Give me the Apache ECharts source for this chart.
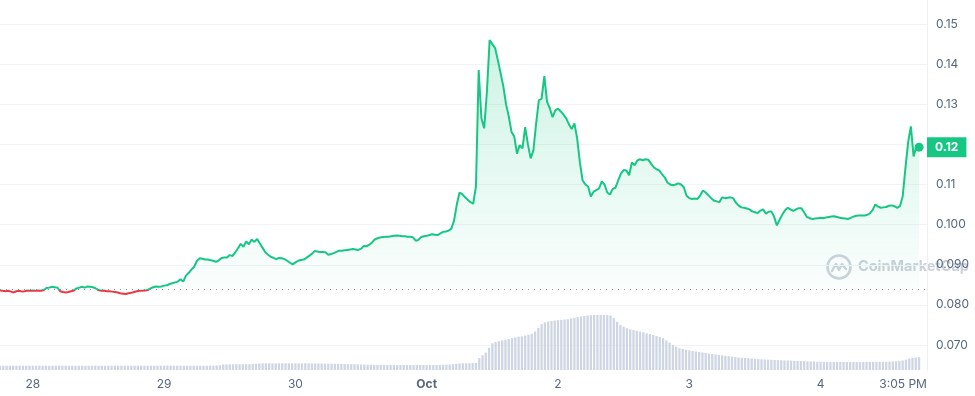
<!DOCTYPE html>
<html>
<head>
<meta charset="utf-8">
<script src="https://cdn.jsdelivr.net/npm/echarts@6/dist/echarts.min.js"></script>
<style>
  html, body { margin: 0; padding: 0; background: #ffffff; }
  #c { width: 975px; height: 396px; }
</style>
</head>
<body>
<div id="c"></div>
<script>
// ---- data (hours measured from Sep 28 00:00) ----
const priceStartHour = -6;      // Sep 27 18:00
const priceStepHours = 0.5;     // 30-minute samples
const prices = [
0.0836,0.0835,0.0834,0.0835,0.0833,0.0831,0.0834,0.0835,0.0833,0.0834,
0.0836,0.0835,0.0836,0.0835,0.0836,0.0835,0.0837,0.0842,0.0843,0.0845,
0.0844,0.0843,0.0834,0.0832,0.0831,0.0832,0.0834,0.0836,0.0841,0.0843,
0.0845,0.0843,0.0846,0.0845,0.0844,0.0841,0.0837,0.0835,0.0836,0.0834,
0.0834,0.0833,0.0832,0.0831,0.0829,0.0828,0.0827,0.0829,0.0830,0.0832,
0.0834,0.0835,0.0835,0.0836,0.0837,0.0841,0.0844,0.0846,0.0845,0.0846,
0.0848,0.0849,0.0852,0.0854,0.0856,0.0858,0.0864,0.0858,0.0873,0.0880,
0.0888,0.0895,0.0910,0.0916,0.0915,0.0913,0.0913,0.0911,0.0910,0.0907,
0.0911,0.0917,0.0918,0.0918,0.0924,0.0922,0.0931,0.0941,0.0952,0.0945,
0.0958,0.0951,0.0963,0.0957,0.0964,0.0953,0.0942,0.0931,0.0925,0.0920,
0.0917,0.0914,0.0917,0.0916,0.0914,0.0910,0.0905,0.0901,0.0906,0.0910,
0.0912,0.0913,0.0917,0.0922,0.0927,0.0934,0.0933,0.0932,0.0932,0.0931,
0.0925,0.0927,0.0929,0.0932,0.0935,0.0935,0.0936,0.0937,0.0938,0.0939,
0.0938,0.0937,0.0940,0.0947,0.0946,0.0950,0.0955,0.0963,0.0966,0.0968,
0.0969,0.0970,0.0970,0.0971,0.0972,0.0973,0.0972,0.0971,0.0971,0.0970,
0.0970,0.0968,0.0960,0.0962,0.0969,0.0971,0.0972,0.0974,0.0976,0.0975,
0.0974,0.0978,0.0982,0.0983,0.0985,0.0990,0.1010,0.1050,0.1080,0.1076,
0.1068,0.1062,0.1056,0.1052,0.1095,0.1385,0.1265,0.1240,0.1330,0.1460,
0.1450,0.1440,0.1410,0.1378,0.1345,0.1300,0.1270,0.1231,0.1220,0.1177,
0.1198,0.1190,0.1243,0.1200,0.1165,0.1185,0.1252,0.1310,0.1314,0.1370,
0.1306,0.1290,0.1268,0.1285,0.1289,0.1282,0.1274,0.1265,0.1250,0.1238,
0.1252,0.1215,0.1155,0.1110,0.1100,0.1095,0.1070,0.1082,0.1086,0.1090,
0.1108,0.1100,0.1080,0.1075,0.1089,0.1092,0.1110,0.1127,0.1136,0.1135,
0.1123,0.1155,0.1148,0.1160,0.1163,0.1160,0.1163,0.1162,0.1152,0.1143,
0.1138,0.1135,0.1126,0.1118,0.1105,0.1100,0.1098,0.1100,0.1103,0.1100,
0.1093,0.1072,0.1066,0.1064,0.1065,0.1064,0.1073,0.1085,0.1080,0.1073,
0.1066,0.1060,0.1058,0.1056,0.1068,0.1066,0.1067,0.1068,0.1066,0.1055,
0.1048,0.1043,0.1042,0.1040,0.1038,0.1033,0.1031,0.1029,0.1035,0.1038,
0.1027,0.1032,0.1033,0.1020,0.0998,0.1012,0.1025,0.1036,0.1042,0.1038,
0.1034,0.1038,0.1041,0.1041,0.1030,0.1019,0.1016,0.1014,0.1015,0.1016,
0.1017,0.1016,0.1018,0.1019,0.1020,0.1021,0.1019,0.1017,0.1016,0.1015,
0.1014,0.1017,0.1020,0.1022,0.1023,0.1023,0.1023,0.1024,0.1028,0.1036,
0.1050,0.1045,0.1042,0.1043,0.1044,0.1047,0.1048,0.1046,0.1042,0.1046,
0.1070,0.1140,0.1205,0.1245,0.1170,0.1195,0.1193
];
const openPrice = 0.0838;

const volStartHour = -6;
const volStepHours = 0.6;
const volumes = [
5.8,5.9,5.8,5.7,5.8,5.9,6.0,5.9,5.8,5.8,
5.7,5.8,5.9,5.8,5.8,5.7,5.8,5.9,5.9,5.8,
5.8,5.7,5.8,5.8,5.9,5.8,5.7,5.8,5.8,5.9,
5.8,5.8,5.7,5.8,5.9,5.8,5.8,5.7,5.8,5.8,
5.9,5.8,5.8,5.7,5.8,5.8,5.9,5.8,5.8,5.8,
5.9,6.0,5.9,5.8,5.8,5.9,5.8,5.8,5.7,5.8,
5.8,5.9,5.8,5.8,5.9,6.0,6.2,6.5,
7.4,7.6,7.7,7.7,7.8,7.7,7.7,7.8,7.9,8.2,8.5,8.8,
9.0,9.0,9.1,9.0,9.0,9.1,9.1,9.0,9.0,9.1,9.0,9.0,9.0,9.1,9.0,8.9,8.9,8.8,8.8,8.7,8.6,
8.5,8.4,8.3,8.2,8.1,8.0,7.9,7.8,7.6,7.5,7.4,7.2,7.1,7.0,6.9,
6.8,6.8,6.7,6.8,6.8,6.7,6.7,6.8,6.8,6.7,6.6,6.7,6.8,6.8,6.7,6.8,6.8,6.8,6.9,7.0,7.2,7.5,7.9,8.4,
8.8,9.0,9.0,9.1,9.2,9.5,
16,20,23.5,30,36,38,39,40,41,42,43,44,45,45.5,46.5,47.5,49,52,57,62,
64.5,65.5,66.3,66.8,67.3,67.8,68.2,68.6,69.5,70.5,71.5,72.3,73,73.6,74,74.3,74.4,74.4,74.3,74.2,
73.5,70,65,61,58.5,56.5,55,54,53,52,51,49.5,48.5,47.3,46,44.5,43,40,37,34,
31.5,29.5,28.5,27.5,26.5,25.8,25,24.4,23.8,23,22.3,21.7,21,20.4,19.8,19.2,18.6,18,17.5,17,
16.6,16.3,16,15.6,15.2,14.8,14.5,14.2,14,13.8,13.6,13.4,13.2,13,12.8,12.6,12.4,12.3,12.1,12,
11.8,11.6,11.5,11.3,11.2,11.1,11,11,10.9,10.9,10.8,10.8,10.8,10.7,10.7,
10.7,10.8,10.8,10.9,10.9,11,11,11.1,11.2,11.2,11.3,11.5,11.8,12.2,12.8,
14,15.5,16.5,17,17.5
];

const tickHours = [0, 24, 48, 72, 96, 120, 144, 159.08];
const tickLabels = ['28', '29', '30', 'Oct', '2', '3', '4', '3:05 PM'];

// ---- build series data ----
const priceData = prices.map((p, i) => [priceStartHour + i * priceStepHours, p]);
const volData = volumes.map((v, i) => [volStartHour + i * volStepHours, v]);
const last = priceData[priceData.length - 1];

const GREEN = '#16c784', RED = '#ea3943', LABEL = '#58667e';
const FONT = 'Inter, "Noto Sans", sans-serif';
const xMin = -6, xMax = 163.45;

const chart = echarts.init(document.getElementById('c'));
chart.setOption({
  animation: false,
  textStyle: { fontFamily: FONT },
  grid: [
    { left: 0, right: 48, top: 24, bottom: 51 },
    { left: 0, right: 48, top: 0, bottom: 26 }
  ],
  xAxis: [
    { gridIndex: 0, type: 'value', min: xMin, max: xMax, show: false },
    { gridIndex: 1, type: 'value', min: xMin, max: xMax,
      axisLine: { show: false }, axisTick: { show: false }, splitLine: { show: false },
      axisLabel: {
        customValues: tickHours, color: LABEL, fontSize: 12, margin: 8, fontFamily: FONT,
        formatter: v => {
          const i = tickHours.findIndex(h => Math.abs(h - v) < 0.01);
          if (i < 0) return '';
          return tickLabels[i] === 'Oct' ? '{b|Oct}' : tickLabels[i];
        },
        rich: { b: { fontWeight: 'bold', color: LABEL, fontSize: 12, fontFamily: FONT } }
      } }
  ],
  yAxis: [
    { gridIndex: 0, type: 'value', position: 'right', min: 0.07, max: 0.15, interval: 0.01,
      axisLine: { show: false }, axisTick: { show: false },
      splitLine: { lineStyle: { color: '#f2f3f6', width: 1 } },
      axisLabel: { color: LABEL, fontSize: 12, margin: 9, fontFamily: FONT,
        formatter: v => {
          const m = Math.round(v * 1000);
          if (m === 120) return '';
          return m >= 110 ? (m / 1000).toFixed(2) : (m / 1000).toFixed(3);
        } } },
    { gridIndex: 1, type: 'value', position: 'right', min: 0, max: 500,
      axisLine: { show: true, onZero: false, lineStyle: { color: '#eef0f3', width: 1 } },
      axisTick: { show: false }, axisLabel: { show: false }, splitLine: { show: false } }
  ],
  visualMap: {
    show: false, type: 'piecewise', seriesIndex: 1, dimension: 1,
    pieces: [ { gte: 0, lt: openPrice, color: RED }, { gte: openPrice, lte: 1, color: GREEN } ]
  },
  series: [
    { type: 'bar', xAxisIndex: 1, yAxisIndex: 1, data: volData, barWidth: 2.3,
      itemStyle: { color: '#cfd6e3' }, z: 1, silent: true },
    { type: 'line', xAxisIndex: 0, yAxisIndex: 0, data: priceData, showSymbol: false,
      lineStyle: { width: 2 }, z: 3,
      areaStyle: {
        origin: openPrice,
        color: new echarts.graphic.LinearGradient(0, 0, 0, 1, [
          { offset: 0, color: 'rgba(22,199,132,0.30)' },
          { offset: 1, color: 'rgba(22,199,132,0.02)' }
        ])
      },
      markLine: {
        silent: true, symbol: ['none', 'none'], precision: 6,
        data: [
          { yAxis: openPrice, lineStyle: { type: [1, 5], color: '#8a93a3', width: 1 }, label: { show: false } },
          { yAxis: last[1], lineStyle: { width: 0, color: 'rgba(0,0,0,0)' },
            label: { show: true, position: 'end', distance: 0, formatter: last[1].toFixed(2),
              backgroundColor: GREEN, color: '#ffffff', fontWeight: 'bold', fontSize: 12,
              fontFamily: FONT, lineHeight: 12, padding: [4, 8, 4, 8] } }
        ]
      },
      markPoint: {
        silent: true, symbol: 'circle', symbolSize: 9,
        itemStyle: { color: GREEN }, label: { show: false },
        data: [ { coord: last } ]
      }
    }
  ],
  graphic: [
    { type: 'group', left: 825, top: 253, z: 100, silent: true,
      children: [
        { type: 'circle', shape: { cx: 13, cy: 13, r: 11.5 }, style: { fill: 'none', stroke: '#cdd3db', lineWidth: 2.6 } },
        { type: 'polyline', shape: { points: [[6, 17], [10, 10], [13, 16], [16, 10], [20, 15]] },
          style: { fill: 'none', stroke: '#cdd3db', lineWidth: 2.4, lineJoin: 'round', lineCap: 'round' } },
        { type: 'text', x: 32, y: 13,
          style: { text: 'CoinMarketCap', fill: 'rgba(196,203,213,0.9)', font: 'bold 14.5px ' + FONT, verticalAlign: 'middle' } }
      ] }
  ]
});
</script>
</body>
</html>
